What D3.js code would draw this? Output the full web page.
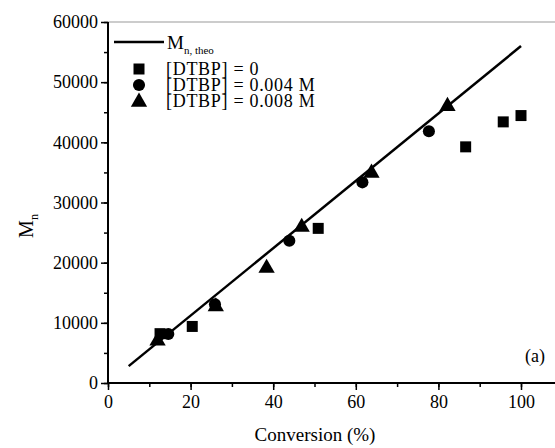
<!DOCTYPE html>
<html lang="en">
<head>
  <meta charset="UTF-8" />
  <title>Mn vs Conversion</title>
  <style>
    body { margin: 0; background: #fff; }
    svg text { font-family: "Liberation Serif", "Times New Roman", serif; fill: #000; }
  </style>
</head>
<body>
  <div id="chart"></div>
  <script src="https://d3js.org/d3.v7.min.js"></script>
  <script>
    // theoretical line (conversion %, Mn)
    const theoLine = [[5, 2800], [100, 56000]];

    // [DTBP] = 0
    const dtbp0 = [[12.6, 8200], [20.4, 9400], [50.9, 25700], [86.6, 39250], [95.7, 43400], [100, 44450]];
    // [DTBP] = 0.004 M
    const dtbp004 = [[14.6, 8150], [25.9, 13100], [43.9, 23650], [61.6, 33350], [77.7, 41850]];
    // [DTBP] = 0.008 M
    const dtbp008 = [[12.0, 7000], [26.1, 12700], [38.4, 19100], [46.9, 25900], [63.8, 34900], [82.2, 46000]];

    const xTicks = [0, 20, 40, 60, 80, 100];
    const yTicks = [0, 10000, 20000, 30000, 40000, 50000, 60000];

    const W = 555, H = 448;
    const mLeft = 108, mTop = 22, mBottom = 383;

    const svg = d3.select("#chart").append("svg")
      .attr("width", W).attr("height", H);

    const x = d3.scaleLinear().domain([0, 110]).range([mLeft, mLeft + 4.13 * 110]);
    const y = d3.scaleLinear().domain([0, 60000]).range([mBottom, mTop]);

    // top frame line (grey)
    svg.append("line")
      .attr("x1", mLeft).attr("x2", W)
      .attr("y1", y(60000)).attr("y2", y(60000))
      .attr("stroke", "#999").attr("stroke-width", 1);

    // minor ticks
    const gx = svg.append("g").attr("transform", `translate(0,${mBottom})`);
    gx.call(d3.axisBottom(x).tickValues(d3.range(0, 111, 10)).tickSize(4).tickFormat(""));
    gx.call(g => g.select(".domain").remove());
    gx.selectAll("line").attr("stroke-width", 1.5);

    const gy = svg.append("g").attr("transform", `translate(${mLeft},0)`);
    gy.call(d3.axisLeft(y).tickValues(d3.range(0, 60001, 5000)).tickSize(4).tickFormat(""));
    gy.call(g => g.select(".domain").remove());
    gy.selectAll("line").attr("stroke-width", 1.5);

    // major ticks + labels
    const ax = svg.append("g").attr("transform", `translate(0,${mBottom})`)
      .call(d3.axisBottom(x).tickValues(xTicks).tickSize(7).tickPadding(5).tickSizeOuter(0).tickFormat(d3.format("d")));
    ax.select(".domain").attr("d", `M${mLeft},0H${W}`).attr("stroke-width", 2);
    ax.selectAll("line").attr("stroke-width", 1.5);
    ax.selectAll("text").attr("font-size", "18px").attr("font-family", "Liberation Serif");

    const ay = svg.append("g").attr("transform", `translate(${mLeft},0)`)
      .call(d3.axisLeft(y).tickValues(yTicks).tickSize(7).tickPadding(3).tickSizeOuter(0).tickFormat(d3.format("d")));
    ay.select(".domain").attr("d", `M0,${mTop}V${mBottom}`).attr("stroke-width", 2);
    ay.selectAll("line").attr("stroke-width", 1.5);
    ay.selectAll("text").attr("font-size", "18px").attr("font-family", "Liberation Serif");

    // axis titles
    svg.append("text")
      .attr("x", 315).attr("y", 441)
      .attr("text-anchor", "middle")
      .attr("font-size", "19px")
      .text("Conversion (%)");

    const yl = svg.append("text")
      .attr("transform", "translate(33,226) rotate(-90)")
      .attr("text-anchor", "middle")
      .attr("font-size", "20px");
    yl.append("tspan").text("M");
    yl.append("tspan").attr("font-size", "12px").attr("dy", 5).text("n");

    // theoretical line
    svg.append("path")
      .datum(theoLine)
      .attr("fill", "none")
      .attr("stroke", "#000")
      .attr("stroke-width", 2.5)
      .attr("d", d3.line().x(d => x(d[0])).y(d => y(d[1])));

    const sq = d3.symbol().type(d3.symbolSquare).size(121);
    const ci = d3.symbol().type(d3.symbolCircle).size(115);
    const tr = d3.symbol().type(d3.symbolTriangle).size(115);

    function drawSeries(data, sym) {
      svg.append("g").selectAll("path")
        .data(data)
        .enter().append("path")
        .attr("transform", d => `translate(${x(d[0])},${y(d[1])})`)
        .attr("d", sym)
        .attr("fill", "#000");
    }
    drawSeries(dtbp0, sq);
    drawSeries(dtbp004, ci);
    drawSeries(dtbp008, tr);

    // legend
    const lg = svg.append("g");
    lg.append("line")
      .attr("x1", 114).attr("x2", 164).attr("y1", 42).attr("y2", 42)
      .attr("stroke", "#000").attr("stroke-width", 2.5);
    const lt = lg.append("text").attr("x", 167).attr("y", 49).attr("font-size", "19px");
    lt.append("tspan").text("M");
    lt.append("tspan").attr("font-size", "11px").attr("dy", 5).text("n, theo");

    const legendItems = [
      { sym: sq, label: "[DTBP] = 0", cy: 69 },
      { sym: ci, label: "[DTBP] = 0.004 M", cy: 85 },
      { sym: tr, label: "[DTBP] = 0.008 M", cy: 101 }
    ];
    legendItems.forEach(d => {
      lg.append("path")
        .attr("transform", `translate(139,${d.cy + (d.sym === tr ? 1 : 0)})`)
        .attr("d", d.sym).attr("fill", "#000");
      lg.append("text")
        .attr("x", 166).attr("y", d.cy + 6)
        .attr("font-size", "18px")
        .attr("letter-spacing", "0.7px")
        .text(d.label);
    });

    svg.append("text")
      .attr("x", 545).attr("y", 362)
      .attr("text-anchor", "end")
      .attr("font-size", "18px")
      .text("(a)");
  </script>
</body>
</html>
